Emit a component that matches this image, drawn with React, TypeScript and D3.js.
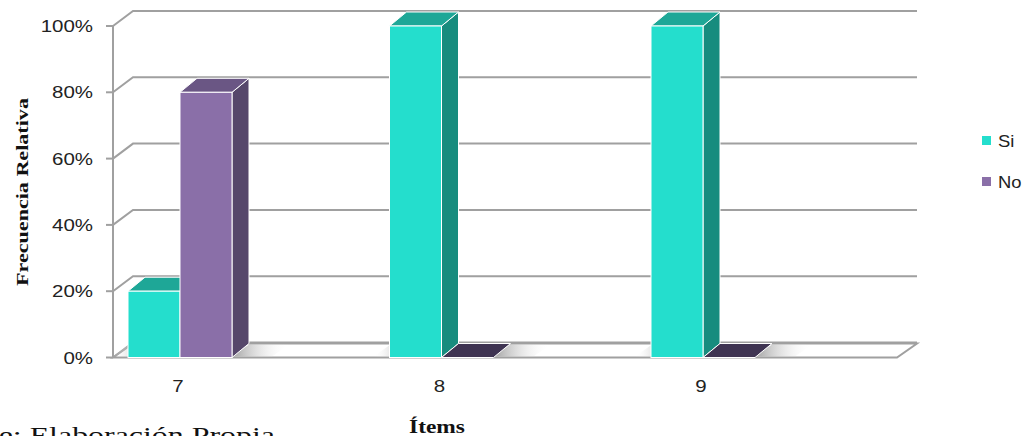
import React from "react";
import * as d3 from "d3";

const categories = ["7", "8", "9"];
const siValues = [0.2, 1.0, 1.0];
const noValues = [0.8, 0.0, 0.0];
const yTicks = [0, 0.2, 0.4, 0.6, 0.8, 1.0];
const seriesNames = ["Si", "No"];
const yTitle = "Frecuencia Relativa";
const xTitle = "Ítems";
const sourceNote = "Fuente: Elaboración Propia";

const W = 1029;
const H = 436;
const axisX = 113;
const axisEnd = 897;
const wallDx = 20;
const wallDy = -15;
const barDx = 17;
const barDy = -14;
const barW = 52;
const SX = 1.28;

const colors = {
  Si: { front: "#24DECD", top: "#1EA797", side: "#178C7E", zero: "#1E8E82" },
  No: { front: "#8A6FA8", top: "#6A5684", side: "#56476B", zero: "#3F3452" },
};

function SText(props: any) {
  const { x, y, sx = SX, rotate = 0, children, ...rest } = props;
  return (
    <text transform={`translate(${x},${y}) rotate(${rotate}) scale(${sx},1)`} {...rest}>
      {children}
    </text>
  );
}

export default function App() {
  const y = d3.scaleLinear().domain([0, 1]).range([357.5, 26]);
  const x = d3.scalePoint<string>().domain(categories).range([180, 703]);
  const y0 = y(0);
  const pct = d3.format(".0%");

  const pts = (arr: number[][]) => arr.map((p) => p.join(",")).join(" ");

  const bar = (bx: number, v: number, c: any, key: string) => {
    const yv = y(v);
    if (v === 0) {
      return (
        <polygon
          key={key}
          points={pts([
            [bx, y0],
            [bx + barW, y0],
            [bx + barW + barDx, y0 + barDy],
            [bx + barDx, y0 + barDy],
          ])}
          fill={c.zero}
          stroke="#ffffff"
          strokeWidth={1}
        />
      );
    }
    return (
      <g key={key}>
        <polygon
          points={pts([
            [bx + barW, yv],
            [bx + barW + barDx, yv + barDy],
            [bx + barW + barDx, y0 + barDy],
            [bx + barW, y0],
          ])}
          fill={c.side}
          stroke="#ffffff"
          strokeWidth={1}
        />
        <polygon
          points={pts([
            [bx, yv],
            [bx + barW, yv],
            [bx + barW + barDx, yv + barDy],
            [bx + barDx, yv + barDy],
          ])}
          fill={c.top}
          stroke="#ffffff"
          strokeWidth={1}
        />
        <rect x={bx} y={yv} width={barW} height={y0 - yv} fill={c.front} stroke="#ffffff" strokeWidth={1} />
      </g>
    );
  };

  const floorBack = y0 + wallDy + 1;

  return (
    <svg width={W} height={H} style={{ position: "absolute", left: 0, top: 0, background: "#ffffff" }}>
      <defs>
        <linearGradient id="shR" x1="0" x2="1" y1="0" y2="0">
          <stop offset="0" stopColor="#8a8a8a" stopOpacity={0.8} />
          <stop offset="1" stopColor="#ffffff" stopOpacity={0} />
        </linearGradient>
        <linearGradient id="shL" x1="0" x2="1" y1="0" y2="0">
          <stop offset="0" stopColor="#ffffff" stopOpacity={0} />
          <stop offset="1" stopColor="#8a8a8a" stopOpacity={0.8} />
        </linearGradient>
      </defs>

      {/* floor */}
      <polygon
        points={pts([
          [axisX, y0],
          [axisEnd, y0],
          [axisEnd + wallDx, floorBack],
          [axisX + wallDx, floorBack],
        ])}
        fill="#ffffff"
        stroke="#a0a0a0"
        strokeWidth={2}
      />

      {/* gridlines */}
      {yTicks.map((t) => (
        <g key={`g${t}`}>
          <polyline
            points={pts([
              [axisX, y(t)],
              [axisX + wallDx, y(t) + wallDy],
              [axisEnd + wallDx, y(t) + wallDy],
            ])}
            fill="none"
            stroke="#a0a0a0"
            strokeWidth={2}
          />
          <line x1={axisX - 7} x2={axisX} y1={y(t)} y2={y(t)} stroke="#a0a0a0" strokeWidth={2} />
          <SText
            x={93}
            y={y(t) + 6}
            textAnchor="end"
            fontFamily="Liberation Sans, Arial, sans-serif"
            fontSize={16}
            fill="#222"
          >
            {pct(t)}
          </SText>
        </g>
      ))}
      <line x1={axisX} x2={axisX} y1={y(0)} y2={y(1)} stroke="#a0a0a0" strokeWidth={2} />

      {/* floor shadows */}
      {categories.map((cat) => {
        const cx = x(cat)!;
        const left = cx - barW;
        const right = cx + barW + barDx;
        return (
          <g key={`sh${cat}`}>
            <polygon
              points={pts([
                [left - 16, y0 - 1],
                [left, y0 - 1],
                [left + barDx, floorBack + 1],
                [left + barDx - 16, floorBack + 1],
              ])}
              fill="url(#shL)"
            />
            <polygon
              points={pts([
                [right - barDx, y0 - 1],
                [right - barDx + 40, y0 - 1],
                [right + 40, floorBack + 1],
                [right, floorBack + 1],
              ])}
              fill="url(#shR)"
            />
          </g>
        );
      })}

      {/* bars */}
      {categories.map((cat, i) => {
        const cx = x(cat)!;
        return (
          <g key={`b${cat}`}>
            {bar(cx - barW, siValues[i], colors.Si, `si${cat}`)}
            {bar(cx, noValues[i], colors.No, `no${cat}`)}
          </g>
        );
      })}

      {/* category labels */}
      {categories.map((cat) => (
        <SText
          key={`l${cat}`}
          x={x(cat)! - 2}
          y={392}
          textAnchor="middle"
          fontFamily="Liberation Sans, Arial, sans-serif"
          fontSize={16}
          fill="#222"
        >
          {cat}
        </SText>
      ))}

      {/* axis titles */}
      <SText
        x={28}
        y={192}
        rotate={-90}
        sx={1.3}
        textAnchor="middle"
        fontFamily="Liberation Serif, Times New Roman, serif"
        fontWeight="bold"
        fontSize={17}
        fill="#111"
      >
        {yTitle}
      </SText>
      <SText
        x={437}
        y={433}
        sx={1.3}
        textAnchor="middle"
        fontFamily="Liberation Serif, Times New Roman, serif"
        fontWeight="bold"
        fontSize={18}
        fill="#111"
      >
        {xTitle}
      </SText>
      <SText
        x={275}
        y={443}
        sx={1.33}
        textAnchor="end"
        fontFamily="Liberation Serif, Times New Roman, serif"
        fontSize={24}
        fill="#111"
      >
        {sourceNote}
      </SText>

      {/* legend */}
      {seriesNames.map((s, i) => (
        <g key={`lg${s}`}>
          <rect x={982} y={136 + i * 41} width={9} height={9} fill={(colors as any)[s].front} />
          <SText
            x={998}
            y={147 + i * 41}
            sx={1.15}
            fontFamily="Liberation Sans, Arial, sans-serif"
            fontSize={16}
            fill="#222"
          >
            {s}
          </SText>
        </g>
      ))}
    </svg>
  );
}
